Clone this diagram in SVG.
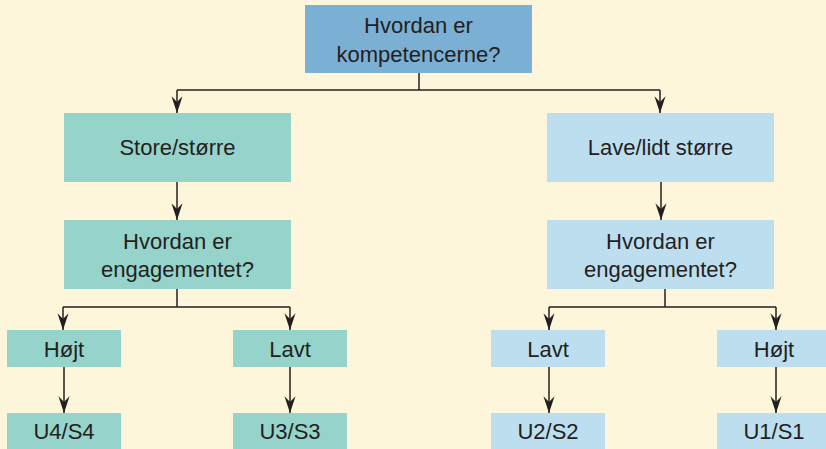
<svg xmlns="http://www.w3.org/2000/svg" width="826" height="449" viewBox="0 0 826 449">
<style>
.t{font-family:"Liberation Sans",Arial,sans-serif;font-size:22px;fill:#231f20;text-anchor:middle}
.c{fill:none;stroke:#231f20;stroke-width:1.5}
.top{fill:#7bafd4}
.teal{fill:#96d3ca}
.lb{fill:#bddeef}
</style>
<defs>
<marker id="ah" markerUnits="userSpaceOnUse" markerWidth="20" markerHeight="20" refX="0" refY="0" viewBox="-16 -8 18 16" orient="auto">
<path d="M0,0 L-15,-5 L-10,0 L-15,5 Z" fill="#231f20"/>
</marker>
</defs>
<rect width="826" height="449" fill="#fdf6da"/>
<g id="connectors">
<path class="c" d="M419,73 V90"/>
<path class="c" d="M177,90 H660"/>
<path class="c" d="M177,90 V113" marker-end="url(#ah)"/>
<path class="c" d="M660,90 V113" marker-end="url(#ah)"/>
<path class="c" d="M177,182 V220" marker-end="url(#ah)"/>
<path class="c" d="M661,182 V220" marker-end="url(#ah)"/>
<path class="c" d="M177,289 V307 M63,307 H290"/>
<path class="c" d="M63,307 V330" marker-end="url(#ah)"/>
<path class="c" d="M290,307 V330" marker-end="url(#ah)"/>
<path class="c" d="M665,289 V307 M549,307 H776"/>
<path class="c" d="M549,307 V330" marker-end="url(#ah)"/>
<path class="c" d="M776,307 V330" marker-end="url(#ah)"/>
<path class="c" d="M64,367 V413" marker-end="url(#ah)"/>
<path class="c" d="M290,367 V413" marker-end="url(#ah)"/>
<path class="c" d="M549,367 V413" marker-end="url(#ah)"/>
<path class="c" d="M776,367 V413" marker-end="url(#ah)"/>
</g>
<g id="n-top"><rect class="top" x="305" y="5" width="227" height="68"/><text class="t" x="418.5" y="33">Hvordan er</text><text class="t" x="418.5" y="62">kompetencerne?</text></g>
<g id="n-store"><rect class="teal" x="64" y="113" width="227" height="69"/><text class="t" x="177.5" y="155">Store/større</text></g>
<g id="n-lave"><rect class="lb" x="547" y="113" width="227" height="69"/><text class="t" x="660.5" y="155">Lave/lidt større</text></g>
<g id="n-eng-l"><rect class="teal" x="64" y="220" width="227" height="69"/><text class="t" x="177.5" y="249">Hvordan er</text><text class="t" x="177.5" y="277">engagementet?</text></g>
<g id="n-eng-r"><rect class="lb" x="547" y="220" width="227" height="69"/><text class="t" x="660.5" y="249">Hvordan er</text><text class="t" x="660.5" y="277">engagementet?</text></g>
<g id="n-hojt-l"><rect class="teal" x="7" y="330" width="114" height="37"/><text class="t" x="64" y="357">Højt</text></g>
<g id="n-lavt-l"><rect class="teal" x="233" y="330" width="114" height="37"/><text class="t" x="290" y="357">Lavt</text></g>
<g id="n-lavt-r"><rect class="lb" x="491" y="330" width="114" height="37"/><text class="t" x="548" y="357">Lavt</text></g>
<g id="n-hojt-r"><rect class="lb" x="717" y="330" width="114" height="37"/><text class="t" x="774" y="357">Højt</text></g>
<g id="n-u4"><rect class="teal" x="7" y="413" width="114" height="40"/><text class="t" x="64" y="439">U4/S4</text></g>
<g id="n-u3"><rect class="teal" x="233" y="413" width="114" height="40"/><text class="t" x="290" y="439">U3/S3</text></g>
<g id="n-u2"><rect class="lb" x="491" y="413" width="114" height="40"/><text class="t" x="548" y="439">U2/S2</text></g>
<g id="n-u1"><rect class="lb" x="717" y="413" width="114" height="40"/><text class="t" x="774" y="439">U1/S1</text></g>
</svg>
